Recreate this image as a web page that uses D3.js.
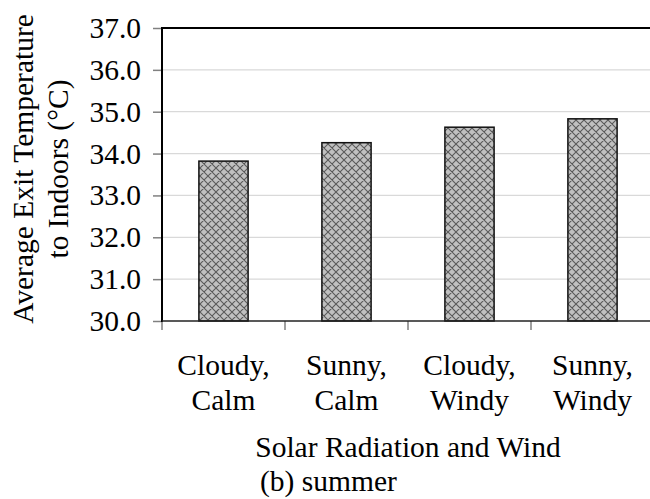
<!DOCTYPE html>
<html>
<head>
<meta charset="utf-8">
<script src="https://cdn.jsdelivr.net/npm/d3@7"></script>
</head>
<body style="margin:0;background:#fff">
<svg id="chart" width="650" height="499" style="display:block"></svg>
<script>
// Categories (two-line labels) and average exit temperatures (°C)
const categories = ["Cloudy,\nCalm", "Sunny,\nCalm", "Cloudy,\nWindy", "Sunny,\nWindy"];
const values = [33.82, 34.26, 34.63, 34.83];
const yTicks = [30, 31, 32, 33, 34, 35, 36, 37];
const yTitle = ["Average Exit Temperature", "to Indoors (°C)"];
const xTitle = "Solar Radiation and Wind";
const caption = "(b) summer";

const FONT = '"Liberation Serif"';
const fontSize = 29.5;

const svg = d3.select("#chart");
const margin = { left: 162, top: 28, right: 654, bottom: 321 };

const x = d3.scaleBand().domain(categories).range([margin.left, margin.right]).paddingInner(0.6).paddingOuter(0.3);
const y = d3.scaleLinear().domain([30, 37]).range([margin.bottom, margin.top]);

// Crosshatch fill for bars
const defs = svg.append("defs");
const pat = defs.append("pattern").attr("id", "hatch").attr("patternUnits", "userSpaceOnUse")
  .attr("width", 8).attr("height", 8);
pat.append("rect").attr("width", 8).attr("height", 8).attr("fill", "#c0c0c0");
pat.append("path").attr("d", "M0,0L8,8M0,8L8,0M-1,1L1,-1M7,9L9,7M-1,7L1,9M7,-1L9,1")
  .attr("stroke", "#5a5a5a").attr("stroke-width", 1.1).attr("fill", "none");

// Horizontal gridlines
svg.append("g").selectAll("line").data(yTicks.slice(1, -1)).join("line")
  .attr("x1", margin.left).attr("x2", 650)
  .attr("y1", d => y(d)).attr("y2", d => y(d))
  .attr("stroke", "#d9d9d9").attr("stroke-width", 1.2);

// Bars
svg.append("g").selectAll("rect").data(values).join("rect")
  .attr("x", (d, i) => x(categories[i]))
  .attr("y", d => y(d))
  .attr("width", x.bandwidth())
  .attr("height", d => y(30) - y(d))
  .attr("fill", "url(#hatch)")
  .attr("stroke", "#111").attr("stroke-width", 1.5);

// Y axis
const yAxis = d3.axisLeft(y).tickValues(yTicks).tickFormat(d3.format(".1f")).tickSize(9).tickPadding(12);
const gy = svg.append("g").attr("transform", `translate(${margin.left},0)`).call(yAxis);
gy.select(".domain").remove();
gy.selectAll(".tick line").attr("stroke", "#808080").attr("stroke-width", 1.5);
gy.selectAll(".tick text").style("font-family", FONT).style("font-size", fontSize + "px").attr("fill", "#000");

// X axis ticks at category boundaries
const bounds = d3.range(categories.length + 1).map(i => margin.left + i * x.step());
svg.append("g").selectAll("line").data(bounds).join("line")
  .attr("x1", d => d).attr("x2", d => d)
  .attr("y1", margin.bottom).attr("y2", margin.bottom + 9)
  .attr("stroke", "#808080").attr("stroke-width", 1.5);

// Plot frame: top, left and bottom lines
svg.append("line").attr("x1", margin.left).attr("x2", 650).attr("y1", margin.top).attr("y2", margin.top)
  .attr("stroke", "#000").attr("stroke-width", 2);
svg.append("line").attr("x1", margin.left).attr("x2", margin.left).attr("y1", margin.top - 1).attr("y2", margin.bottom + 1)
  .attr("stroke", "#000").attr("stroke-width", 2);
svg.append("line").attr("x1", margin.left).attr("x2", 650).attr("y1", margin.bottom).attr("y2", margin.bottom)
  .attr("stroke", "#222").attr("stroke-width", 1.5);

// Category labels
const xl = svg.append("g").selectAll("text").data(categories).join("text")
  .attr("x", d => x(d) + x.bandwidth() / 2)
  .attr("y", 375)
  .attr("text-anchor", "middle")
  .style("font-family", FONT).style("font-size", fontSize + "px");
xl.selectAll("tspan").data(d => d.split("\n")).join("tspan")
  .attr("x", function () { return d3.select(this.parentNode).attr("x"); })
  .attr("dy", (d, i) => i === 0 ? 0 : 35)
  .text(d => d);

// X axis title and caption
svg.append("text").attr("x", (margin.left + margin.right) / 2).attr("y", 457)
  .attr("text-anchor", "middle").style("font-family", FONT).style("font-size", fontSize + "px").text(xTitle);
svg.append("text").attr("x", 260).attr("y", 491)
  .attr("text-anchor", "start").style("font-family", FONT).style("font-size", fontSize + "px").text(caption);

// Y axis title (two lines, rotated)
const yt = svg.append("text").attr("transform", "translate(33,169) rotate(-90)")
  .attr("text-anchor", "middle").style("font-family", FONT).style("font-size", fontSize + "px");
yt.selectAll("tspan").data(yTitle).join("tspan")
  .attr("x", 0).attr("dy", (d, i) => i === 0 ? 0 : 35).text(d => d);
</script>
</body>
</html>
